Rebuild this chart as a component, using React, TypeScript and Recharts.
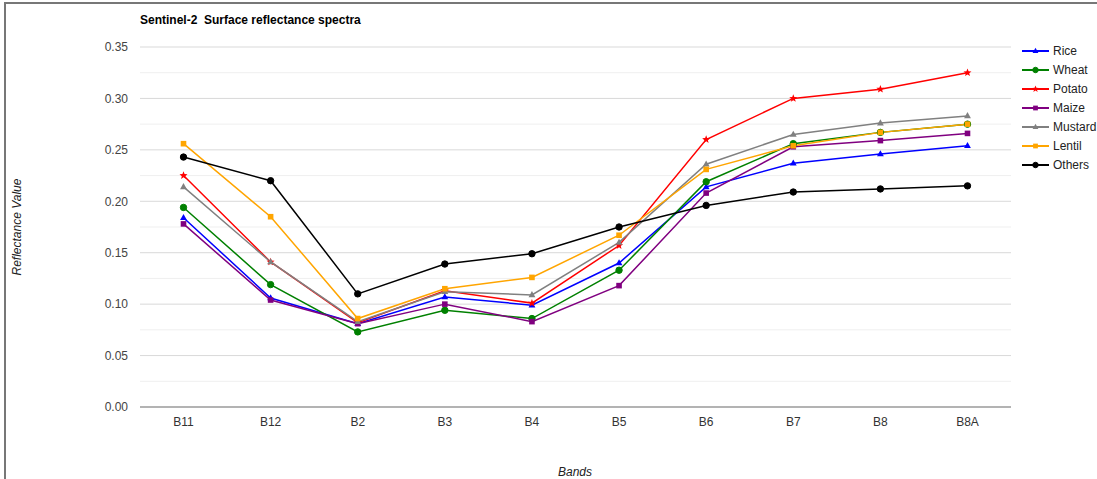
import React from 'react';
import { LineChart, Line, XAxis, YAxis, CartesianGrid, ReferenceLine } from 'recharts';

const bands = ['B11', 'B12', 'B2', 'B3', 'B4', 'B5', 'B6', 'B7', 'B8', 'B8A'];
const rice = [0.184, 0.106, 0.081, 0.107, 0.099, 0.140, 0.214, 0.237, 0.246, 0.254];
const wheat = [0.194, 0.119, 0.073, 0.094, 0.086, 0.133, 0.219, 0.256, 0.267, 0.275];
const potato = [0.225, 0.141, 0.082, 0.113, 0.101, 0.157, 0.260, 0.300, 0.309, 0.325];
const maize = [0.178, 0.104, 0.081, 0.100, 0.083, 0.118, 0.208, 0.253, 0.259, 0.266];
const mustard = [0.214, 0.141, 0.083, 0.112, 0.109, 0.160, 0.236, 0.265, 0.276, 0.283];
const lentil = [0.256, 0.185, 0.086, 0.115, 0.126, 0.167, 0.231, 0.254, 0.267, 0.275];
const others = [0.243, 0.220, 0.110, 0.139, 0.149, 0.175, 0.196, 0.209, 0.212, 0.215];

const majorTicks = [0, 0.05, 0.1, 0.15, 0.2, 0.25, 0.3, 0.35];
const minorTicks = [0.025, 0.075, 0.125, 0.175, 0.225, 0.275, 0.325];

const series = [
  { key: 'Rice', values: rice, color: '#0000ff', shape: 'triangle' },
  { key: 'Wheat', values: wheat, color: '#008000', shape: 'circle' },
  { key: 'Potato', values: potato, color: '#ff0000', shape: 'star' },
  { key: 'Maize', values: maize, color: '#800080', shape: 'square' },
  { key: 'Mustard', values: mustard, color: '#808080', shape: 'triangle' },
  { key: 'Lentil', values: lentil, color: '#ffa500', shape: 'square' },
  { key: 'Others', values: others, color: '#000000', shape: 'circle' },
];

const data = bands.map((b, i) => {
  const row: any = { band: b };
  series.forEach((s) => { row[s.key] = s.values[i]; });
  return row;
});

const FONT = "Arial, 'Liberation Sans', sans-serif";

function Marker({ shape, cx, cy, color, scale = 1 }: any) {
  if (cx == null || cy == null) return null;
  if (shape === 'circle') return <circle cx={cx} cy={cy} r={3.2 * scale} fill={color} stroke={color} />;
  if (shape === 'square') return <rect x={cx - 2.8 * scale} y={cy - 2.8 * scale} width={5.6 * scale} height={5.6 * scale} fill={color} />;
  if (shape === 'triangle') {
    const r = 3.8 * scale;
    return <polygon points={`${cx},${cy - r} ${cx + r * 0.9},${cy + r * 0.6} ${cx - r * 0.9},${cy + r * 0.6}`} fill={color} />;
  }
  const pts: string[] = [];
  for (let i = 0; i < 10; i++) {
    const rr = (i % 2 === 0 ? 4.2 : 1.8) * scale;
    const a = -Math.PI / 2 + (i * Math.PI) / 5;
    pts.push(`${cx + rr * Math.cos(a)},${cy + rr * Math.sin(a)}`);
  }
  return <polygon points={pts.join(' ')} fill={color} />;
}

function LegendBox() {
  return (
    <div style={{ position: 'absolute', left: 1022, top: 42, fontFamily: FONT, fontSize: 12, color: '#222' }}>
      {series.map((s) => (
        <div key={s.key} style={{ display: 'flex', alignItems: 'center', height: 18.9 }}>
          <svg width={31} height={10} style={{ overflow: 'visible' }}>
            <line x1={0} y1={5} x2={27} y2={5} stroke={s.color} strokeWidth={2} />
            <Marker shape={s.shape} cx={13.5} cy={5} color={s.color} scale={0.85} />
          </svg>
          <span>{s.key}</span>
        </div>
      ))}
    </div>
  );
}

export default function App() {
  return (
    <div style={{ position: 'absolute', left: 0, top: 0, width: 1097, height: 479, background: '#fff', overflow: 'hidden', fontFamily: FONT }}>
      <div style={{ position: 'absolute', left: 4, top: 2, width: 1093, height: 477, borderTop: '2px solid #777', borderLeft: '2px solid #777' }} />
      <div style={{ position: 'absolute', left: 140, top: 13, fontSize: 12, fontWeight: 'bold', color: '#000', whiteSpace: 'pre' }}>
        {'Sentinel-2  Surface reflectance spectra'}
      </div>
      <div style={{ position: 'absolute', left: 17, top: 227, transform: 'translate(-50%, -50%) rotate(-90deg)', fontSize: 12, fontStyle: 'italic', color: '#222', whiteSpace: 'nowrap' }}>
        Reflectance Value
      </div>
      <div style={{ position: 'absolute', left: 575, top: 472, transform: 'translate(-50%, -50%)', fontSize: 12, fontStyle: 'italic', color: '#222', whiteSpace: 'nowrap' }}>
        Bands
      </div>
      <div style={{ position: 'absolute', left: 0, top: 0 }}>
        <LineChart width={1097} height={479} data={data} margin={{ top: 47, right: 86, bottom: 42, left: 0 }}>
          <CartesianGrid vertical={false} stroke="#d9d9d9" horizontalValues={majorTicks} />
          {minorTicks.map((t) => (
            <ReferenceLine key={t} y={t} stroke="#efefef" strokeWidth={1} />
          ))}
          <XAxis
            dataKey="band"
            height={30}
            padding={{ left: 43.5, right: 43.5 }}
            tickLine={false}
            axisLine={{ stroke: '#a0a0a0', strokeWidth: 1.5 }}
            tick={{ fill: '#333', fontSize: 12, fontFamily: FONT }}
            tickMargin={4}
          />
          <YAxis
            width={140}
            domain={[0, 0.35]}
            ticks={majorTicks}
            tickFormatter={(v: number) => v.toFixed(2)}
            axisLine={false}
            tickLine={false}
            tickMargin={6}
            tick={{ fill: '#444', fontSize: 12, fontFamily: FONT }}
          />
          {series.map((s) => (
            <Line
              key={s.key}
              dataKey={s.key}
              stroke={s.color}
              strokeWidth={1.5}
              isAnimationActive={false}
              dot={(p: any) => <Marker key={`${s.key}-${p.index}`} shape={s.shape} cx={p.cx} cy={p.cy} color={s.color} />}
              activeDot={false}
            />
          ))}
        </LineChart>
      </div>
      <LegendBox />
    </div>
  );
}
